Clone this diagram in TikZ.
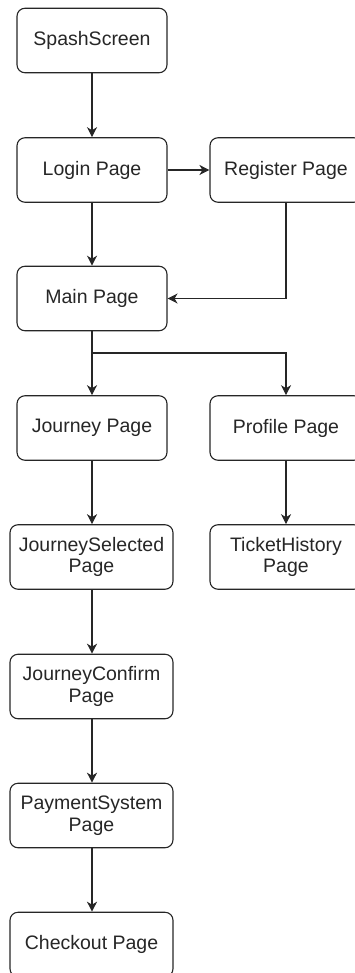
\documentclass[tikz,border=0pt]{standalone}
\usepackage{fontspec}
\setmainfont{Liberation Sans}
\usetikzlibrary{arrows.meta}
\begin{document}
\begin{tikzpicture}[x=1pt,y=-1pt,
  box/.style={draw=black!85, line width=1.1pt, rounded corners=8pt, align=center,
    inner sep=0pt, text=black!85, font=\fontsize{19.5}{21.5}\selectfont},
  lbox/.style={box, minimum width=150pt, minimum height=64.5pt},
  wbox/.style={box, minimum width=163pt, minimum height=64.5pt},
  rbox/.style={box, minimum width=152pt, minimum height=64.5pt},
  conn/.style={draw=black!85, line width=1.1pt, -{Stealth[length=10pt,width=10pt,inset=3pt]}}]
\useasboundingbox (0,0) rectangle (354,973);
\node[lbox] (splash) at (92,40.5) {SpashScreen};
\node[lbox] (login) at (92,170) {Login Page};
\node[rbox] (register) at (286,170) {Register Page};
\node[lbox] (main) at (92,298.5) {Main Page};
\node[lbox] (journey) at (92,428) {Journey Page};
\node[rbox] (profile) at (286,428) {Profile Page};
\node[wbox] (jsel) at (91.5,557) {JourneySelected\\Page};
\node[rbox] (ticket) at (286,557) {TicketHistory\\Page};
\node[wbox] (jconf) at (91.5,686.5) {JourneyConfirm\\Page};
\node[wbox] (pay) at (91.5,815.5) {PaymentSystem\\Page};
\node[wbox] (checkout) at (91.5,944.5) {Checkout Page};
\coordinate (split) at (92,353);
\draw[conn] (splash) -- (login);
\draw[conn] (login) -- (register);
\draw[conn] (login) -- (main);
\draw[conn] (register.south) |- (main.east);
\draw[line width=1.1pt, draw=black!85] (main.south) -- (split);
\draw[conn] (split) -- (journey);
\draw[conn] (split) -| (profile.north);
\draw[conn] (journey) -- (journey |- jsel.north);
\draw[conn] (profile) -- (ticket);
\draw[conn] (jsel.south -| journey) -- (journey |- jconf.north);
\draw[conn] (jconf.south -| journey) -- (journey |- pay.north);
\draw[conn] (pay.south -| journey) -- (journey |- checkout.north);
\end{tikzpicture}
\end{document}
